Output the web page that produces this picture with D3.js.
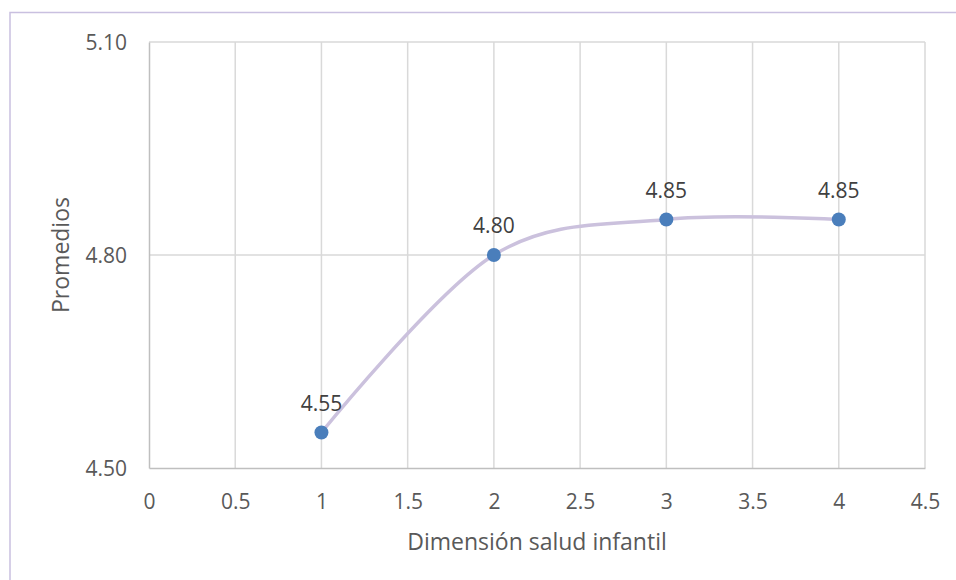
<!DOCTYPE html>
<html><head><meta charset="utf-8">
<script src="https://cdn.jsdelivr.net/npm/d3@7"></script>
<style>body{margin:0;background:#fff}svg{display:block}text{font-family:"Open Sans","Noto Sans",sans-serif}</style>
</head><body><svg id="c" width="956" height="580"></svg>
<script>
const xValues = [1, 2, 3, 4];
const yValues = [4.55, 4.80, 4.85, 4.85];
const dataLabels = ["4.55", "4.80", "4.85", "4.85"];
const xTicks = [0, 0.5, 1, 1.5, 2, 2.5, 3, 3.5, 4, 4.5];
const yTicks = [4.50, 4.80, 5.10];
const xTitle = "Dimensión salud infantil";
const yTitle = "Promedios";

const svg = d3.select("#c");
// chart border
svg.append("rect").attr("x",10).attr("y",12.5).attr("width",960).attr("height",600)
  .attr("fill","none").attr("stroke","#c9c0e0").attr("stroke-width",1.5);

const x = d3.scaleLinear().domain([0,4.5]).range([149,925]);
const y = d3.scaleLinear().domain([4.5,5.1]).range([468,42]);

// grid
svg.append("g").selectAll("line").data(xTicks.filter(d=>d>0)).join("line")
  .attr("x1",d=>x(d)).attr("x2",d=>x(d)).attr("y1",y(5.1)).attr("y2",y(4.5))
  .attr("stroke","#d9d9d9").attr("stroke-width",1.5);
svg.append("g").selectAll("line").data(yTicks.filter(d=>d>4.5)).join("line")
  .attr("x1",x(0)).attr("x2",x(4.5)).attr("y1",d=>y(d)).attr("y2",d=>y(d))
  .attr("stroke","#d9d9d9").attr("stroke-width",1.5);

// axes
const xa = svg.append("g").attr("transform",`translate(0,${y(4.5)})`)
  .call(d3.axisBottom(x).tickValues(xTicks).tickSize(0).tickPadding(26).tickFormat(d=>String(d)));
const ya = svg.append("g").attr("transform",`translate(${x(0)},0)`)
  .call(d3.axisLeft(y).tickValues(yTicks).tickSize(0).tickPadding(22).tickFormat(d3.format(".2f")));
[xa,ya].forEach(a=>{
  a.attr("font-size",null).attr("font-family",null);
  a.select(".domain").attr("stroke","#bfbfbf").attr("stroke-width",1.5);
  a.selectAll("text").attr("fill","#595959").style("font-size","21px");
});
ya.selectAll("text").attr("dy","0.35em");

// titles
svg.append("text").attr("x",537).attr("y",550).attr("text-anchor","middle")
  .attr("fill","#595959").style("font-size","23px").text(xTitle);
svg.append("text").attr("transform",`translate(69,${y(4.8)}) rotate(-90)`).attr("text-anchor","middle")
  .attr("fill","#595959").style("font-size","23px").text(yTitle);

const pts = xValues.map((v,i)=>[v,yValues[i]]);
const line = d3.line().x(d=>x(d[0])).y(d=>y(d[1])).curve(d3.curveCardinal.tension(0));
svg.append("path").attr("d",line(pts)).attr("fill","none").attr("stroke","#cbc1dd").attr("stroke-width",3.5);

svg.append("g").selectAll("circle").data(pts).join("circle")
  .attr("cx",d=>x(d[0])).attr("cy",d=>y(d[1])).attr("r",7).attr("fill","#4a7ebb");

svg.append("g").selectAll("text").data(pts).join("text")
  .attr("x",d=>x(d[0])).attr("y",d=>y(d[1])-22).attr("text-anchor","middle")
  .attr("fill","#404040").style("font-size","21px").text((d,i)=>dataLabels[i]);
</script></body></html>
